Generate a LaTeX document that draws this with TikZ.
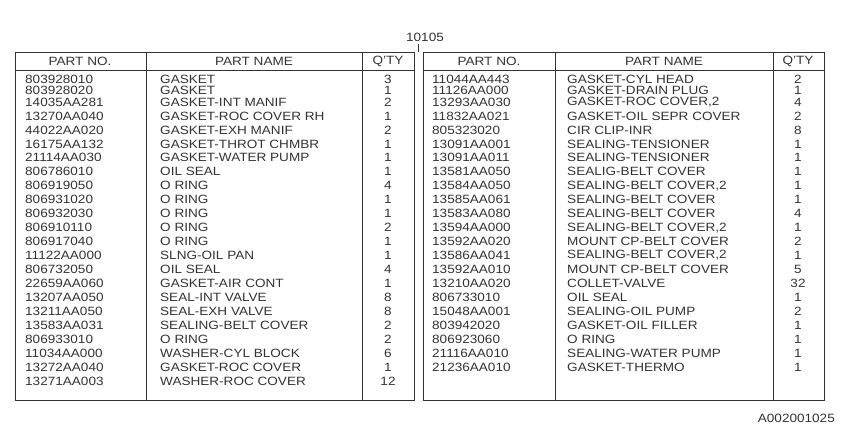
\documentclass[tikz,border=0pt]{standalone}
\usepackage{fontspec}
\setmainfont[FakeStretch=1.13]{Liberation Sans}
\begin{document}
\begin{tikzpicture}[x=1pt,y=-1pt,
  txt/.style={font=\fontsize{12}{12}\selectfont, inner sep=0pt, text=black!80},
  rule/.style={draw=black!80, line width=0.7pt}]
\useasboundingbox (0,0) rectangle (850,425);
% tables
\draw[rule] (15,52) rectangle (414,400);
\draw[rule] (423,52) rectangle (824,400);
\draw[rule] (15,70) -- (414,70) (423,70) -- (824,70);
\foreach \x in {146,362,555,773} \draw[rule] (\x,52) -- (\x,400);
\node[txt] (title) at (425,37) {10105};
\coordinate (tl) at (418.5,44);
\coordinate (tb) at (418.5,52);
\draw[rule] (tl) -- (tb);
% headers
\foreach \a/\b/\c/\n in {80/254/388/L,489/664/798/R}{
  \node[txt] (pn\n) at (\a,61.5) {PART NO.};
  \node[txt] (pm\n) at (\b,61.5) {PART NAME};
  \node[txt] (q\n) at (\c,61.5) {Q'TY};
}
\foreach \i/\p/\m/\q [count=\k] in {
1/803928010/GASKET/3,
2/803928020/GASKET/1,
3/14035AA281/GASKET-INT MANIF/2,
4/13270AA040/GASKET-ROC COVER RH/1,
5/44022AA020/GASKET-EXH MANIF/2,
6/16175AA132/GASKET-THROT CHMBR/1,
7/21114AA030/GASKET-WATER PUMP/1,
8/806786010/OIL SEAL/1,
9/806919050/O RING/4,
10/806931020/O RING/1,
11/806932030/O RING/1,
12/806910110/O RING/2,
13/806917040/O RING/1,
14/11122AA000/SLNG-OIL PAN/1,
15/806732050/OIL SEAL/4,
16/22659AA060/GASKET-AIR CONT/1,
17/13207AA050/SEAL-INT VALVE/8,
18/13211AA050/SEAL-EXH VALVE/8,
19/13583AA031/SEALING-BELT COVER/2,
20/806933010/O RING/2,
21/11034AA000/WASHER-CYL BLOCK/6,
22/13272AA040/GASKET-ROC COVER/1,
23/13271AA003/WASHER-ROC COVER/12}{
  \pgfmathsetmacro{\yy}{\i==1?79:(\i==2?90.5:(\i==3?102:116+13.95*(\i-4)))}
  \node[txt,anchor=west] (lp\k) at (25,\yy) {\p};
  \node[txt,anchor=west] (lm\k) at (160,\yy) {\m};
  \node[txt] (lq\k) at (388,\yy) {\q};
}
\foreach \i/\p/\m/\q [count=\k] in {
1/11044AA443/GASKET-CYL HEAD/2,
2/11126AA000/GASKET-DRAIN PLUG/1,
3/13293AA030/{GASKET-ROC COVER,2}/4,
4/11832AA021/GASKET-OIL SEPR COVER/2,
5/805323020/CIR CLIP-INR/8,
6/13091AA001/SEALING-TENSIONER/1,
7/13091AA011/SEALING-TENSIONER/1,
8/13581AA050/SEALIG-BELT COVER/1,
9/13584AA050/{SEALING-BELT COVER,2}/1,
10/13585AA061/SEALING-BELT COVER/1,
11/13583AA080/SEALING-BELT COVER/4,
12/13594AA000/{SEALING-BELT COVER,2}/1,
13/13592AA020/MOUNT CP-BELT COVER/2,
14/13586AA041/{SEALING-BELT COVER,2}/1,
15/13592AA010/MOUNT CP-BELT COVER/5,
16/13210AA020/COLLET-VALVE/32,
17/806733010/OIL SEAL/1,
18/15048AA001/SEALING-OIL PUMP/2,
19/803942020/GASKET-OIL FILLER/1,
20/806923060/O RING/1,
21/21116AA010/SEALING-WATER PUMP/1,
22/21236AA010/GASKET-THERMO/1}{
  \pgfmathsetmacro{\yy}{\i==1?79:(\i==2?90.5:(\i==3?102:116+13.95*(\i-4)))}
  \node[txt,anchor=west] (rp\k) at (432,\yy) {\p};
  \node[txt,anchor=west] (rm\k) at (567,\yy) {\m};
  \node[txt] (rq\k) at (798,\yy) {\q};
}
\node[txt,anchor=east] (code) at (835,418) {A002001025};
\end{tikzpicture}
\end{document}
